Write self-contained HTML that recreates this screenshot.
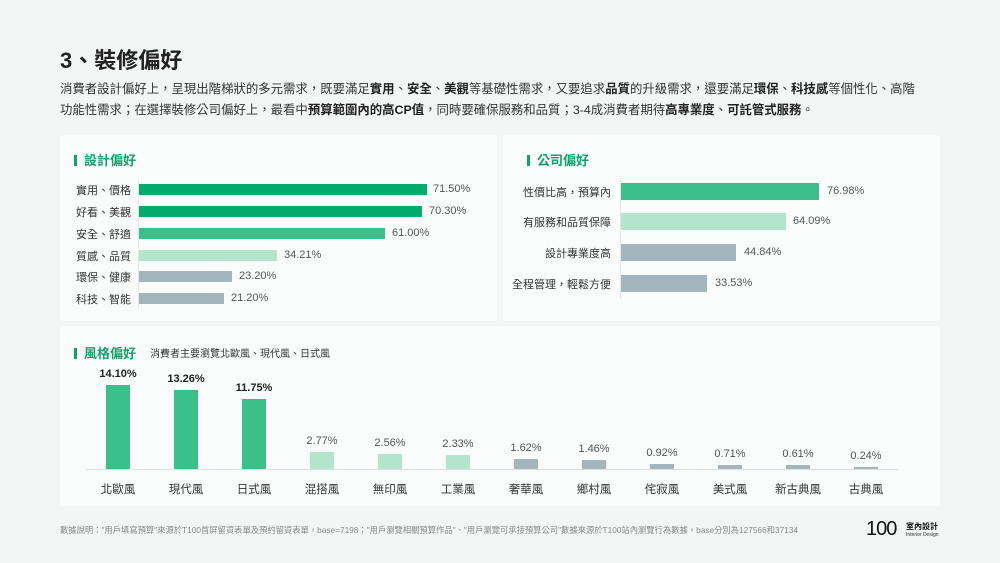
<!DOCTYPE html>
<html><head><meta charset="utf-8"><style>
body{margin:0;width:1000px;height:563px;background:#f3f6f5;font-family:"Liberation Sans","Noto Sans CJK TC",sans-serif;position:relative;overflow:hidden;color:#333}
.a{position:absolute;white-space:nowrap}
.card{position:absolute;background:#fafcfb;border-radius:4px}
.t{font-size:13px;font-weight:bold;color:#12a36c}
.t:before{content:"";display:inline-block;width:3px;height:11px;background:#12a36c;margin-right:7px;vertical-align:-1px}
.lb{font-size:11px;color:#333}
.v{font-size:11px;color:#555}
b{color:#222}
</style></head><body>
<div class="a" style="left:60px;top:43px;font-size:22px;font-weight:bold;color:#222">3、裝修偏好</div>
<div class="a" style="left:60px;top:79px;font-size:12.4px;line-height:21px;color:#333">消費者設計偏好上，呈現出階梯狀的多元需求，既要滿足<b>實用</b>、<b>安全</b>、<b>美觀</b>等基礎性需求，又要追求<b>品質</b>的升級需求，還要滿足<b>環保</b>、<b>科技感</b>等個性化、高階<br>功能性需求；在選擇裝修公司偏好上，最看中<b>預算範圍內的高CP值</b>，同時要確保服務和品質；3-4成消費者期待<b>高專業度</b>、<b>可託管式服務</b>。</div>

<div class="card" style="left:60px;top:135px;width:437px;height:186px"></div>
<div class="card" style="left:503px;top:135px;width:437px;height:186px"></div>
<div class="card" style="left:60px;top:326px;width:880px;height:180px"></div>

<div class="a t" style="left:74px;top:150px">設計偏好</div>
<div class="a" style="left:138px;top:180px;width:1px;height:128px;background:#e3e7e6"></div>
<div class="a lb" style="left:76px;top:182px">實用、價格</div><div class="a" style="left:139px;top:184px;width:288px;height:11px;background:#00ad6f"></div><div class="a v" style="left:433px;top:183px">71.50%</div>
<div class="a lb" style="left:76px;top:204px">好看、美觀</div><div class="a" style="left:139px;top:206px;width:283px;height:11px;background:#00ad6f"></div><div class="a v" style="left:429px;top:205px">70.30%</div>
<div class="a lb" style="left:76px;top:226px">安全、舒適</div><div class="a" style="left:139px;top:228px;width:246px;height:11px;background:#3cc08a"></div><div class="a v" style="left:392px;top:227px">61.00%</div>
<div class="a lb" style="left:76px;top:248px">質感、品質</div><div class="a" style="left:139px;top:250px;width:138px;height:11px;background:#b3e5cc"></div><div class="a v" style="left:284px;top:249px">34.21%</div>
<div class="a lb" style="left:76px;top:269px">環保、健康</div><div class="a" style="left:139px;top:271px;width:93px;height:11px;background:#a4b6bd"></div><div class="a v" style="left:239px;top:270px">23.20%</div>
<div class="a lb" style="left:76px;top:291px">科技、智能</div><div class="a" style="left:139px;top:293px;width:85px;height:11px;background:#a4b6bd"></div><div class="a v" style="left:231px;top:292px">21.20%</div>

<div class="a t" style="left:527px;top:150px">公司偏好</div>
<div class="a" style="left:620px;top:178px;width:1px;height:120px;background:#e3e7e6"></div>
<div class="a lb" style="left:500px;top:184px;width:111px;text-align:right">性價比高，預算內</div><div class="a" style="left:621px;top:183px;width:198px;height:17px;background:#3cc08a"></div><div class="a v" style="left:827px;top:185px">76.98%</div>
<div class="a lb" style="left:500px;top:214px;width:111px;text-align:right">有服務和品質保障</div><div class="a" style="left:621px;top:213px;width:165px;height:17px;background:#b3e5cc"></div><div class="a v" style="left:793px;top:215px">64.09%</div>
<div class="a lb" style="left:500px;top:245px;width:111px;text-align:right">設計專業度高</div><div class="a" style="left:621px;top:244px;width:115px;height:17px;background:#a4b6bd"></div><div class="a v" style="left:744px;top:246px">44.84%</div>
<div class="a lb" style="left:500px;top:276px;width:111px;text-align:right">全程管理，輕鬆方便</div><div class="a" style="left:621px;top:275px;width:86px;height:17px;background:#a4b6bd"></div><div class="a v" style="left:715px;top:277px">33.53%</div>

<div class="a t" style="left:74px;top:343px">風格偏好</div>
<div class="a" style="left:150px;top:345px;font-size:10px;color:#333">消費者主要瀏覽北歐風、現代風、日式風</div>
<div class="a" style="left:86px;top:469px;width:812px;height:1px;background:#dde2e1"></div>
<div id="cols"></div>
<script>
var d=[["北歐風",14.10],["現代風",13.26],["日式風",11.75],["混搭風",2.77],["無印風",2.56],["工業風",2.33],["奢華風",1.62],["鄉村風",1.46],["侘寂風",0.92],["美式風",0.71],["新古典風",0.61],["古典風",0.24]];
var h="";
d.forEach(function(e,i){var cx=118+i*68;var hh=Math.max(2,e[1]*5.96);var c=i<3?"#3cc08a":(i<6?"#b3e5cc":"#a4b6bd");var top=469-hh;
h+='<div class="a" style="left:'+(cx-12)+'px;top:'+top+'px;width:24px;height:'+hh+'px;background:'+c+'"></div>';
h+='<div class="a" style="left:'+(cx-30)+'px;top:'+(top-17)+'px;width:60px;text-align:center;font-size:11px;'+(i<3?'font-weight:bold;color:#222':'color:#555')+'">'+e[1].toFixed(2)+'%</div>';
h+='<div class="a lb" style="left:'+(cx-35)+'px;top:481px;width:70px;text-align:center;font-size:11.5px">'+e[0]+'</div>';});
document.getElementById("cols").innerHTML=h;
</script>
<div class="a" style="left:60px;top:524px;font-size:8.3px;color:#888">數據說明："用戶填寫預算"來源於T100首屏留資表單及預約留資表單，base=7198；"用戶瀏覽相關預算作品"、"用戶瀏覽可承接預算公司"數據來源於T100站內瀏覽行為數據，base分別為127566和37134</div>
<div class="a" style="left:866px;top:518px;font-size:20px;color:#111;letter-spacing:-1px">100</div>
<div class="a" style="left:906px;top:521px;font-size:8px;font-weight:bold;color:#111">室內設計</div>
<div class="a" style="left:906px;top:532px;font-size:5px;color:#333">Interior Design</div>
</body></html>
